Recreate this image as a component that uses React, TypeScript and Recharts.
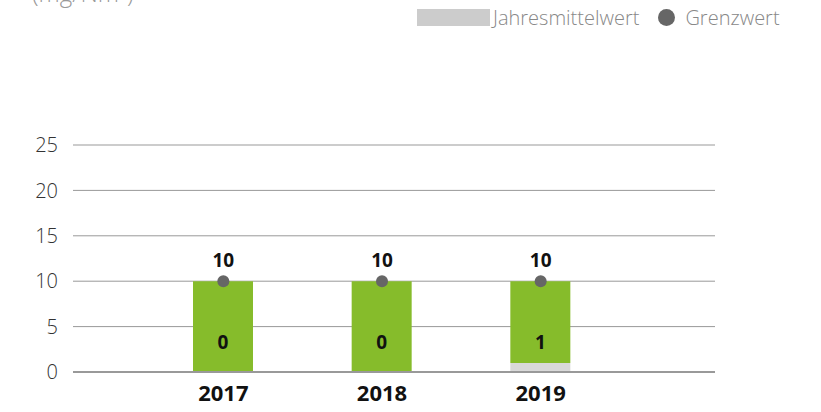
import {
  ComposedChart,
  Bar,
  Line,
  XAxis,
  YAxis,
  CartesianGrid,
  LabelList,
} from "recharts";

const years = ["2017", "2018", "2019"];
const jahresmittelwert = [0, 0, 1];
const grenzwert = [10, 10, 10];
const yTicks = [0, 5, 10, 15, 20, 25];

const data = years.map((year, i) => ({
  year,
  mittel: jahresmittelwert[i],
  rest: grenzwert[i] - jahresmittelwert[i],
  grenz: grenzwert[i],
}));

const GREEN = "#86bc2b";
const GREY = "#d9d9d9";
const DOT = "#666666";
const FONT = "'Open Sans', 'Noto Sans', sans-serif";

// label sits near the bottom of the stack, inside the green part
function InnerLabel(props: any) {
  const { x, y, width, height, index } = props;
  const d = data[index];
  const perUnit = d.rest ? height / d.rest : 0;
  const bottom = y + height + d.mittel * perUnit;
  return (
    <text
      x={x + width / 2}
      y={bottom - 30}
      textAnchor="middle"
      dominantBaseline="central"
      fontFamily={FONT}
      fontWeight={700}
      fontSize={19}
      fill="#111"
    >
      {d.mittel}
    </text>
  );
}

function App() {
  return (
    <div
      style={{
        position: "absolute",
        left: 0,
        top: 0,
        width: 821,
        height: 412,
        overflow: "hidden",
        background: "#fff",
        fontFamily: FONT,
      }}
    >
      <div
        style={{
          position: "absolute",
          left: 32,
          top: -20,
          fontSize: 24,
          fontWeight: 300,
          color: "#999",
          lineHeight: "26px",
        }}
      >
        (mg/Nm³)
      </div>

      <div
        style={{
          position: "absolute",
          left: 417,
          top: 7,
          display: "flex",
          alignItems: "center",
          fontSize: 20,
          fontWeight: 300,
          color: "#888",
          height: 20,
        }}
      >
        <span
          style={{
            display: "inline-block",
            width: 73,
            height: 17,
            background: "#cccccc",
            marginRight: 3,
          }}
        />
        <span>Jahresmittelwert</span>
        <span
          style={{
            display: "inline-block",
            width: 17,
            height: 17,
            borderRadius: "50%",
            background: DOT,
            marginLeft: 19,
            marginRight: 10,
          }}
        />
        <span>Grenzwert</span>
      </div>

      <ComposedChart
        width={821}
        height={412}
        data={data}
        margin={{ top: 145, right: 106, bottom: 10, left: 0 }}
        barCategoryGap={0}
      >
        <CartesianGrid vertical={false} stroke="#999" strokeWidth={1} />
        <XAxis
          dataKey="year"
          padding={{ left: 71, right: 95 }}
          axisLine={{ stroke: "#999", strokeWidth: 2 }}
          tickLine={false}
          height={30}
          tick={{
            fontSize: 22,
            fontWeight: 700,
            fill: "#111",
            fontFamily: FONT,
            dy: 5,
          }}
        />
        <YAxis
          domain={[0, 25]}
          ticks={yTicks}
          width={73}
          axisLine={false}
          tickLine={false}
          tickMargin={9}
          tick={{ fontSize: 20, fill: "#333", fontWeight: 300, fontFamily: FONT }}
        />
        <Bar
          dataKey="mittel"
          stackId="a"
          fill={GREY}
          barSize={60}
          isAnimationActive={false}
        />
        <Bar
          dataKey="rest"
          stackId="a"
          fill={GREEN}
          barSize={60}
          isAnimationActive={false}
        >
          <LabelList dataKey="mittel" content={InnerLabel} />
        </Bar>
        <Line
          dataKey="grenz"
          stroke="none"
          dot={{ r: 6, fill: DOT, stroke: "none" }}
          activeDot={false}
          isAnimationActive={false}
        >
          <LabelList
            dataKey="grenz"
            position="top"
            offset={14}
            style={{
              fontSize: 19,
              fontWeight: 700,
              fill: "#111",
              fontFamily: FONT,
            }}
          />
        </Line>
      </ComposedChart>
    </div>
  );
}

export default App;
